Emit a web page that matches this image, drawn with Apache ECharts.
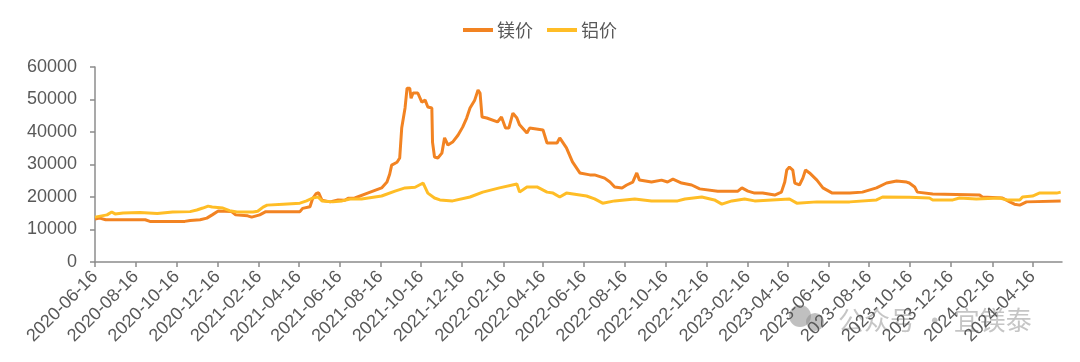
<!DOCTYPE html>
<html><head><meta charset="utf-8">
<script src="https://cdn.jsdelivr.net/npm/echarts@6/dist/echarts.min.js"></script>
<style>html,body{margin:0;padding:0;background:#fff}#c{width:1080px;height:362px}</style>
</head><body><div id="c"></div>
<script>
const seriesNames = ['镁价', '铝价'];

const magnesiumDates = [
'2020-06-16','2020-06-23','2020-07-02','2020-08-30','2020-09-06','2020-10-28','2020-11-05','2020-11-20','2020-11-30','2020-12-08','2020-12-17',
'2021-01-06','2021-01-12','2021-01-30','2021-02-05','2021-02-17','2021-02-26','2021-04-18','2021-04-22','2021-05-03','2021-05-07','2021-05-12','2021-05-16','2021-05-21',
'2021-06-02','2021-06-14','2021-06-24','2021-06-29','2021-07-09','2021-07-28','2021-08-18','2021-08-26','2021-08-30','2021-09-02','2021-09-10','2021-09-14','2021-09-17',
'2021-09-22','2021-09-25','2021-09-29','2021-10-01','2021-10-04','2021-10-11','2021-10-17','2021-10-22','2021-10-26','2021-11-01','2021-11-02','2021-11-05','2021-11-10',
'2021-11-16','2021-11-20','2021-11-25','2021-12-02','2021-12-10','2021-12-17','2021-12-23','2021-12-28','2022-01-04','2022-01-09','2022-01-12','2022-01-15','2022-01-22',
'2022-02-07','2022-02-13','2022-02-19','2022-02-24','2022-03-02','2022-03-08','2022-03-12','2022-03-23','2022-03-27','2022-04-16','2022-04-22','2022-05-07','2022-05-11',
'2022-05-21','2022-05-30','2022-06-10','2022-06-25','2022-07-02','2022-07-17','2022-07-25','2022-08-01','2022-08-12','2022-08-19','2022-08-28','2022-09-03','2022-09-07',
'2022-09-25','2022-10-10','2022-10-19','2022-10-27','2022-11-09','2022-11-24','2022-12-06','2023-01-02','2023-02-01','2023-02-07','2023-02-16','2023-02-26','2023-03-10',
'2023-03-28','2023-04-07','2023-04-12','2023-04-15','2023-04-19','2023-04-24','2023-04-27','2023-05-04','2023-05-09','2023-05-13','2023-05-19','2023-05-30','2023-06-08',
'2023-06-22','2023-07-18','2023-08-06','2023-08-27','2023-09-11','2023-09-26','2023-10-11','2023-10-15','2023-10-23','2023-10-27','2023-11-19','2024-01-28','2024-02-01',
'2024-03-02','2024-03-13','2024-03-20','2024-03-28','2024-04-07','2024-05-28'
];
const magnesiumValues = [
13200,13500,13000,13000,12500,12500,12800,13000,13500,14500,15700,
15500,14500,14200,13800,14500,15500,15500,16500,17000,19500,21000,21300,19000,
18500,19100,19000,19600,19700,21200,22800,24600,27000,29800,30700,32000,41200,
47400,53500,53500,50400,52000,52000,49200,49800,47700,47400,36900,32300,32000,
33500,38200,36000,36900,39000,41500,44300,47400,49800,52900,52000,44600,44300,
43100,44600,41200,41200,45800,44300,42200,39700,41200,40600,36600,36600,38200,
35100,30800,27400,26800,26800,25800,24600,23100,22800,23700,24600,27400,25200,
24600,25200,24600,25500,24300,23700,22500,21800,21800,22800,21800,21200,21200,
20600,21500,24600,28300,29200,28300,24300,23700,25800,28300,27400,25200,22800,
21200,21200,21500,22800,24300,24900,24600,24300,23100,21500,20900,20600,20000,
19700,18500,17800,17500,18500,18800
];

const aluminiumDates = [
'2020-06-16','2020-07-04','2020-07-11','2020-07-16','2020-07-28','2020-08-22','2020-09-17','2020-10-10','2020-11-05','2020-11-15','2020-11-24','2020-12-02',
'2020-12-08','2020-12-24','2021-01-03','2021-01-14','2021-02-07','2021-02-14','2021-02-22','2021-02-28','2021-03-24','2021-04-18','2021-04-28','2021-05-07',
'2021-05-15','2021-05-21','2021-06-06','2021-06-20','2021-07-02','2021-07-19','2021-08-18','2021-09-07','2021-09-22','2021-10-07','2021-10-19','2021-10-26',
'2021-11-05','2021-11-13','2021-12-02','2021-12-28','2022-01-16','2022-02-10','2022-03-08','2022-03-12','2022-03-23','2022-04-07','2022-04-22','2022-05-01',
'2022-05-11','2022-05-21','2022-06-20','2022-07-02','2022-07-14','2022-08-01','2022-08-31','2022-09-25','2022-11-03','2022-11-14','2022-12-09','2022-12-28',
'2023-01-08','2023-01-23','2023-02-11','2023-02-26','2023-04-19','2023-04-30','2023-05-30','2023-07-18','2023-08-27','2023-09-05','2023-10-15','2023-11-14',
'2023-11-19','2023-12-19','2023-12-29','2024-01-23','2024-02-27','2024-03-08','2024-03-28','2024-04-01','2024-04-16','2024-04-26','2024-05-22','2024-05-28'
];
const aluminiumValues = [
13800,14500,15400,14800,15100,15200,14900,15400,15500,16000,16600,17200,
16900,16600,15800,15400,15400,15600,16900,17500,17800,18100,18800,19700,
20000,18800,18500,18800,19400,19400,20300,21800,22800,23000,24300,21200,
19700,19100,18800,20000,21500,22800,24000,21500,23100,23100,21500,21200,
20000,21200,20300,19400,18100,18800,19400,18800,18800,19400,20000,19100,
17800,18800,19400,18800,19400,18100,18500,18500,19100,20000,19900,19700,
19100,19100,19700,19400,19700,19100,19100,20000,20300,21200,21200,21500
];

const xTickLabels = [
'2020-06-16','2020-08-16','2020-10-16','2020-12-16','2021-02-16','2021-04-16','2021-06-16','2021-08-16',
'2021-10-16','2021-12-16','2022-02-16','2022-04-16','2022-06-16','2022-08-16','2022-10-16','2022-12-16',
'2023-02-16','2023-04-16','2023-06-16','2023-08-16','2023-10-16','2023-12-16','2024-02-16','2024-04-16'
];
const xMin = '2020-06-16';
const xMax = '2024-05-30';
const yMin = 0, yMax = 60000, yInterval = 10000;

const ts = s => echarts.number.parseDate(s).getTime();
const pad = n => (n < 10 ? '0' : '') + n;
const fmt = v => { const d = new Date(v); return d.getFullYear() + '-' + pad(d.getMonth() + 1) + '-' + pad(d.getDate()); };
const tickValues = xTickLabels.map(ts);
const zip = (ds, vs) => ds.map((d, i) => [ts(d), vs[i]]);

const chart = echarts.init(document.getElementById('c'), null, { renderer: 'canvas' });
const axisColor = '#8c8c8c';
const textColor = '#595959';
const font = '"Liberation Sans", Arial, sans-serif';

chart.setOption({
  animation: false,
  backgroundColor: '#ffffff',
  legend: {
    top: 16, left: 'center', icon: 'rect',
    itemWidth: 30, itemHeight: 4, itemGap: 14,
    textStyle: { fontSize: 18, color: textColor, fontFamily: '"Noto Sans CJK SC", sans-serif', padding: [0, 0, 0, -1] },
    data: seriesNames
  },
  grid: { left: 95, right: 18, top: 67, bottom: 100 },
  xAxis: {
    type: 'value',
    min: ts(xMin), max: ts(xMax),
    axisLine: { show: true, lineStyle: { color: axisColor, width: 1.5 } },
    axisTick: { show: true, length: 5, lineStyle: { color: axisColor, width: 1.5 }, customValues: tickValues },
    axisLabel: {
      customValues: tickValues, rotate: 45, margin: 12,
      fontSize: 18, color: textColor, fontFamily: font,
      formatter: v => fmt(v), hideOverlap: false
    },
    splitLine: { show: false }
  },
  yAxis: {
    type: 'value', min: yMin, max: yMax, interval: yInterval,
    axisLine: { show: true, lineStyle: { color: axisColor, width: 1.5 } },
    axisTick: { show: true, length: 5, lineStyle: { color: axisColor, width: 1.5 } },
    axisLabel: { fontSize: 18, color: textColor, fontFamily: font, margin: 18, formatter: v => String(v) },
    splitLine: { show: false }
  },
  series: [
    { name: seriesNames[0], type: 'line', symbol: 'none', showSymbol: false, z: 2,
      data: zip(magnesiumDates, magnesiumValues), lineStyle: { color: '#F28322', width: 3 }, itemStyle: { color: '#F28322' } },
    { name: seriesNames[1], type: 'line', symbol: 'none', showSymbol: false, z: 3,
      data: zip(aluminiumDates, aluminiumValues), lineStyle: { color: '#FFBD26', width: 3 }, itemStyle: { color: '#FFBD26' } }
  ],
  graphic: [
    { type: 'circle', shape: { cx: 800, cy: 316, r: 11 }, style: { fill: 'rgba(140,140,140,0.55)' } },
    { type: 'circle', shape: { cx: 815, cy: 322, r: 9 }, style: { fill: 'rgba(140,140,140,0.55)' } },
    { type: 'text', left: 838, top: 307, style: { text: '公众号 · 宜镁泰', fontSize: 26, fill: 'rgba(150,150,150,0.55)', fontFamily: '"Noto Sans CJK SC", sans-serif' } }
  ]
});
</script>
</body></html>
